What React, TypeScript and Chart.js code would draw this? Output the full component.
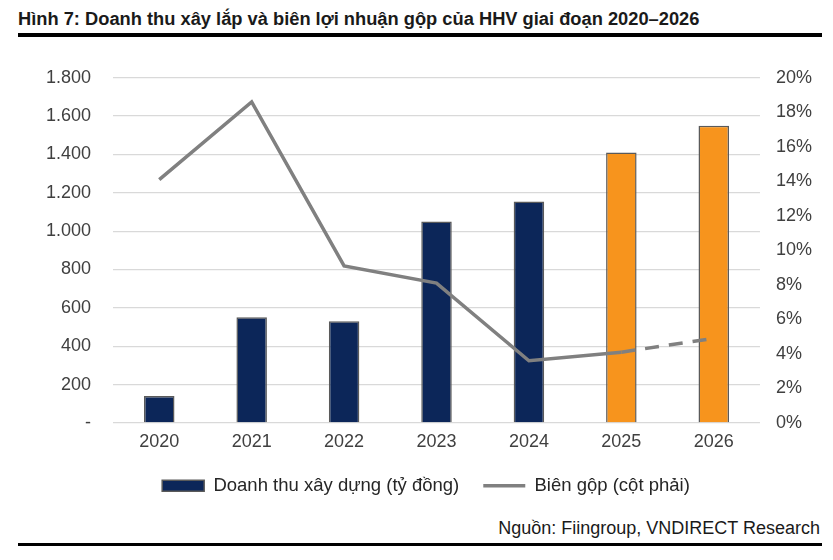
import React, { useEffect, useRef } from "react";
import { Chart, registerables } from "chart.js";

Chart.register(...registerables);

const categories = ["2020", "2021", "2022", "2023", "2024", "2025", "2026"];
const revenue = [140, 551, 530, 1050, 1155, 1410, 1550];
const grossMargin = [14.1, 18.6, 9.1, 8.1, 3.6, 4.1, 4.9];
const barColors = ["#0c2659", "#0c2659", "#0c2659", "#0c2659", "#0c2659", "#f7941d", "#f7941d"];
const leftTicks = [0, 200, 400, 600, 800, 1000, 1200, 1400, 1600, 1800];

const TITLE = "Hình 7: Doanh thu xây lắp và biên lợi nhuận gộp của HHV giai đoạn 2020–2026";
const SOURCE = "Nguồn: Fiingroup, VNDIRECT Research";
const FONT = "'Liberation Sans', Arial, sans-serif";

export default function App() {
  const ref = useRef<HTMLCanvasElement | null>(null);

  useEffect(() => {
    if (!ref.current) return;
    const chart = new Chart(ref.current, {
      data: {
        labels: categories,
        datasets: [
          {
            type: "line",
            label: "Biên gộp (cột phải)",
            data: grossMargin,
            yAxisID: "y1",
            borderColor: "#808080",
            backgroundColor: "#808080",
            borderWidth: 3.5,
            pointRadius: 0,
            pointStyle: "line",
            tension: 0,
            segment: {
              borderDash: (c: any) => (c.p0DataIndex >= 5 ? [14, 10] : undefined),
            },
            order: 0,
          } as any,
          {
            type: "bar",
            label: "Doanh thu xây dựng (tỷ đồng)",
            data: revenue,
            yAxisID: "y",
            backgroundColor: barColors,
            borderColor: "#5a5a5a",
            borderWidth: 1.5,
            pointStyle: "rect",
            barPercentage: 0.33,
            categoryPercentage: 1,
            order: 1,
          } as any,
        ],
      },
      options: {
        animation: false,
        responsive: true,
        maintainAspectRatio: false,
        layout: { padding: { left: 12, right: 5, top: 22, bottom: 10 } },
        plugins: {
          tooltip: { enabled: false },
          legend: {
            position: "bottom",
            reverse: true,
            labels: {
              usePointStyle: true,
              pointStyleWidth: 42,
              boxHeight: 11,
              font: { family: FONT, size: 18.5 },
              color: "#262626",
              padding: 24,
            },
          },
        },
        scales: {
          x: {
            grid: { display: false },
            border: { display: false },
            ticks: { font: { family: FONT, size: 18 }, color: "#404040", padding: 0 },
          },
          y: {
            position: "left",
            min: 0,
            max: 1800,
            afterBuildTicks: (axis: any) => {
              axis.ticks = leftTicks.map((v) => ({ value: v }));
            },
            grid: { color: "#d9d9d9", lineWidth: 1.3, drawTicks: false },
            border: { display: false },
            ticks: {
              font: { family: FONT, size: 18 },
              color: "#404040",
              padding: 22,
              callback: (v: any) => (v === 0 ? "-" : Number(v).toLocaleString("de-DE")),
            },
          },
          y1: {
            position: "right",
            min: 0,
            max: 20,
            grid: { display: false, drawTicks: false },
            border: { display: false },
            ticks: {
              stepSize: 2,
              font: { family: FONT, size: 18 },
              color: "#404040",
              padding: 16,
              callback: (v: any) => `${v}%`,
            },
          },
        },
      },
    });
    return () => chart.destroy();
  }, []);

  return (
    <div style={{ position: "absolute", left: 0, top: 0, width: 833, height: 560, background: "#fff", fontFamily: FONT }}>
      <div style={{ position: "absolute", left: 18, top: 8, fontSize: 18.3, fontWeight: 700, color: "#1a1a1a", whiteSpace: "nowrap" }}>
        {TITLE}
      </div>
      <div style={{ position: "absolute", left: 18, width: 804, top: 33, height: 4, background: "#000" }} />
      <div style={{ position: "absolute", left: 12, top: 45, width: 821, height: 470 }}>
        <canvas ref={ref} />
      </div>
      <div style={{ position: "absolute", right: 13, top: 518, fontSize: 18, color: "#1a1a1a", whiteSpace: "nowrap" }}>
        {SOURCE}
      </div>
      <div style={{ position: "absolute", left: 18, width: 804, top: 543, height: 3, background: "#000" }} />
    </div>
  );
}
